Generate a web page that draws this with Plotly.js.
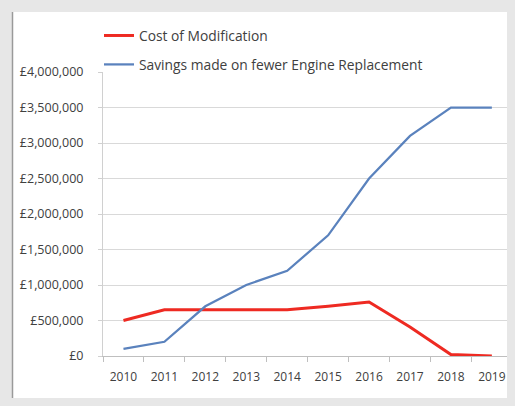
<!DOCTYPE html>
<html>
<head>
<meta charset="utf-8">
<script src="https://cdn.plot.ly/plotly-3.0.1.min.js"></script>
<style>html,body{margin:0;padding:0;}#chart{width:515px;height:406px;}</style>
</head>
<body>
<div id="chart"></div>
<script>
const years = ['2010','2011','2012','2013','2014','2015','2016','2017','2018','2019'];
const costOfModification = [500000, 650000, 650000, 650000, 650000, 700000, 760000, 410000, 20000, 0];
const savingsFewerEngines = [100000, 200000, 700000, 1000000, 1200000, 1700000, 2500000, 3100000, 3500000, 3500000];
const seriesNames = ['Cost of Modification', 'Savings made on fewer Engine Replacement'];

const W = 515, H = 406;
const M = {l: 103, r: 8, t: 72, b: 50};
const pw = W - M.l - M.r, ph = H - M.t - M.b;
const px = x => (x - M.l) / pw;
const py = y => (H - M.b - y) / ph;

const font = "'Open Sans', 'Liberation Sans', sans-serif";

const traces = [
  {x: years, y: costOfModification, name: seriesNames[0], type: 'scatter', mode: 'lines',
   line: {color: '#ee2a22', width: 3}, legendgroup: 'a'},
  {x: years, y: savingsFewerEngines, name: seriesNames[1], type: 'scatter', mode: 'lines',
   line: {color: '#5a82bd', width: 2.25}, legendgroup: 'b'}
];

const layout = {
  width: W, height: H,
  margin: M,
  paper_bgcolor: '#e7e7e7',
  plot_bgcolor: '#ffffff',
  font: {family: font, color: '#404040'},
  showlegend: true,
  legend: {x: px(99), y: py(20), xanchor: 'left', yanchor: 'top',
    bgcolor: 'rgba(0,0,0,0)', font: {size: 13.8, color: '#404040', family: font},
    traceorder: 'grouped', tracegroupgap: 8},
  xaxis: {type: 'category', categoryorder: 'array', categoryarray: years,
    range: [-0.5, 9.37], tickson: 'boundaries', ticks: 'outside', ticklen: 5,
    tickcolor: '#bfbfbf', showline: true, linecolor: '#bfbfbf', linewidth: 1,
    showgrid: false, zeroline: false, ticklabelstandoff: 10,
    tickfont: {size: 12, color: '#404040', family: font}, fixedrange: true},
  yaxis: {range: [0, 4000000], dtick: 500000, tick0: 0, tickprefix: '£', tickformat: ',d',
    showgrid: true, gridcolor: '#d9d9d9', gridwidth: 1, zeroline: false,
    showline: true, linecolor: '#d0d0d0', ticks: 'outside', ticklen: 4, tickcolor: '#d0d0d0',
    ticklabelstandoff: 12,
    tickfont: {size: 12.5, color: '#404040', family: font}, fixedrange: true},
  shapes: [
    {type: 'rect', xref: 'paper', yref: 'paper', layer: 'below',
     x0: px(12), x1: px(507), y0: py(398), y1: py(12),
     fillcolor: '#ffffff', line: {width: 0}},
    {type: 'line', xref: 'paper', yref: 'paper', layer: 'below',
     x0: px(12.5), x1: px(12.5), y0: py(398), y1: py(12),
     line: {color: '#9a9a9a', width: 1.5}}
  ]
};

Plotly.newPlot('chart', traces, layout, {displayModeBar: false, staticPlot: true});
</script>
</body>
</html>
